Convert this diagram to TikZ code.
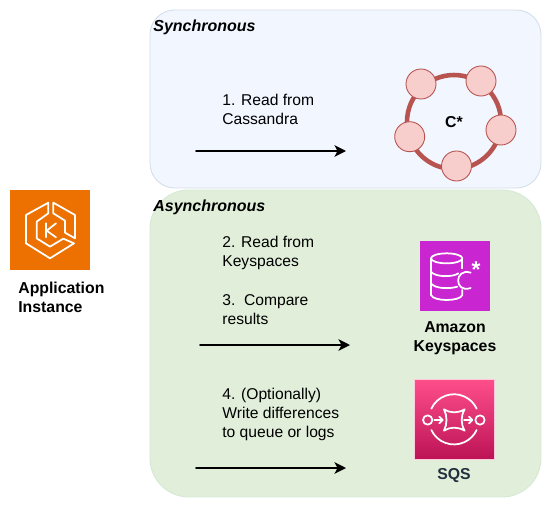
\documentclass[tikz,border=0pt]{standalone}
\usepackage{fontspec}
\setmainfont{Liberation Sans}
\usepackage{xcolor}
\usetikzlibrary{arrows.meta,calc,positioning}
\definecolor{syncbg}{HTML}{F1F6FF}
\definecolor{syncline}{HTML}{D3DEEB}
\definecolor{asyncbg}{HTML}{E1EFDA}
\definecolor{asyncline}{HTML}{D5E8D4}
\definecolor{ekshue}{HTML}{ED7100}
\definecolor{keyshue}{HTML}{C925D1}
\definecolor{sqstop}{HTML}{FF4F8B}
\definecolor{sqsbot}{HTML}{BC1356}
\definecolor{ringline}{HTML}{B85450}
\definecolor{ringfill}{HTML}{F8CECC}
\definecolor{sqstext}{HTML}{232F3E}
\tikzset{
every picture/.style={line cap=round,line join=round},
>={Stealth[length=2.3mm,width=2.3mm,inset=0.6mm]},
sync panel/.style={
  draw=syncline,
  fill=syncbg,
  rounded corners=14pt,
  line width=0.5pt,
  minimum width=7.82cm,
  minimum height=3.56cm
},
async panel/.style={
  draw=asyncline,
  fill=asyncbg,
  rounded corners=22pt,
  line width=0.5pt,
  minimum width=7.82cm,
  minimum height=6.14cm
},
icon box/.style={draw=none, minimum size=#1, inner sep=0pt},
fig flow/.style={draw=black, ->, line width=0.95pt},
fig label/.style={font=\fontsize{8.9}{10.8}\selectfont, text=black, align=left, inner sep=0pt, anchor=north west},
panel title/.style={font=\fontsize{9.1}{10}\selectfont\bfseries\itshape, inner sep=0pt, anchor=west},
icon label/.style={font=\fontsize{9}{10.8}\selectfont\bfseries, align=center, inner sep=0pt},
ring node/.style={circle, draw=ringline, fill=ringfill, line width=0.5pt, minimum size=0.6cm, inner sep=0pt},
icon line/.style={draw=white, line width=1pt}
}
\begin{document}
\begin{tikzpicture}[x=0.02cm,y=-0.02cm]
\useasboundingbox (0,0) rectangle (551,507);
\node[sync panel] (sync) at (345.5,99) {};
\node[async panel] (async) at (345.5,343.5) {};
\node[panel title] (synctitle) at (153,27) {Synchronous};
\node[panel title] (asynctitle) at (153,207) {Asynchronous};
\node[icon box=1.6cm,fill=ekshue] (app) at (50,230) {};
\begin{scope}[shift={(0,180)},x=0.00667cm,y=-0.00667cm]
\draw[icon line] (145,68) -- (78,105) -- (78,190) -- (150,235) -- (222,190) -- (190,176) -- (150,200) -- (110,175) -- (110,125) -- (145,100) -- cycle;
\draw[icon line] (160,68) -- (225,105) -- (225,175) -- (195,158) -- (195,122) -- (160,100) -- cycle;
\draw[icon line] (138,130) -- (138,172) (168,130) -- (140,152) -- (168,172);
\end{scope}
\node[icon label,align=left,anchor=north west] (applabel) at (18,282) {Application\\Instance};
\node[fig label] (step1) at (222,94) {1. Read from\\Cassandra};
\coordinate (s1a) at (196,151);
\coordinate (s1b) at (346,151);
\draw[fig flow] (s1a) -- (s1b);
\draw[ringline,line width=2.6pt] (454,122) circle (47);
\node[ring node] (r1) at (421,84) {};
\node[ring node] (r2) at (481,81) {};
\node[ring node] (r3) at (501,130) {};
\node[ring node] (r4) at (456.5,166) {};
\node[ring node] (r5) at (409.7,136.7) {};
\node[icon label] (cstar) at (454,122) {C*};
\node[fig label] (step2) at (222,236) {2. Read from\\Keyspaces};
\node[fig label] (step3) at (222,294) {3.\ \ Compare\\results};
\coordinate (s2a) at (200,345);
\coordinate (s2b) at (350,345);
\draw[fig flow] (s2a) -- (s2b);
\node[icon box=1.4cm,fill=keyshue] (keys) at (455,276) {};
\begin{scope}[shift={(400,230)},x=0.00667cm,y=-0.00667cm]
\draw[icon line] (140,85) ellipse (47 and 15);
\draw[icon line] (93,85) -- (93,195) .. controls (100,215) and (180,215) .. (187,195) -- (187,180);
\draw[icon line] (187,85) -- (187,115);
\draw[icon line] (93,125) .. controls (105,142) and (160,142) .. (175,130);
\draw[icon line] (93,160) .. controls (105,177) and (150,177) .. (172,170);
\draw[icon line] (212,128) .. controls (162,112) and (162,192) .. (212,174);
\end{scope}
\node[text=white,font=\fontsize{13}{13}\selectfont\bfseries,inner sep=0pt] (keystar) at (476,270) {*};
\node[icon label] (keyslabel) at (455,338) {Amazon\\Keyspaces};
\node[fig label] (step4) at (222,388) {4. (Optionally)\\Write differences\\to queue or logs};
\coordinate (s3a) at (196,468);
\coordinate (s3b) at (346,468);
\draw[fig flow] (s3a) -- (s3b);
\node[icon box=1.6cm,top color=sqstop,bottom color=sqsbot,draw=white!70!sqstop,line width=0.4pt] (sqs) at (454,419) {};
\begin{scope}[shift={(400,370)},x=0.00667cm,y=-0.00667cm]
\draw[icon line] (94,116) arc[start angle=-155,end angle=-25,radius=75];
\draw[icon line] (94,180) arc[start angle=155,end angle=25,radius=75];
\draw[icon line] (83,150) circle (14);
\draw[icon line] (240,150) circle (14);
\draw[icon line] (103,150) -- (128,150) (118,140) -- (128,150) -- (118,160);
\draw[icon line] (192,150) -- (217,150) (207,140) -- (217,150) -- (207,160);
\draw[icon line] (132,118) .. controls (150,130) and (174,130) .. (194,118) .. controls (182,138) and (182,162) .. (194,182) .. controls (174,170) and (150,170) .. (132,182) .. controls (142,162) and (142,138) .. (132,118) -- cycle;
\end{scope}
\node[icon label,text=sqstext] (sqslabel) at (454,476) {SQS};
\end{tikzpicture}
\end{document}
